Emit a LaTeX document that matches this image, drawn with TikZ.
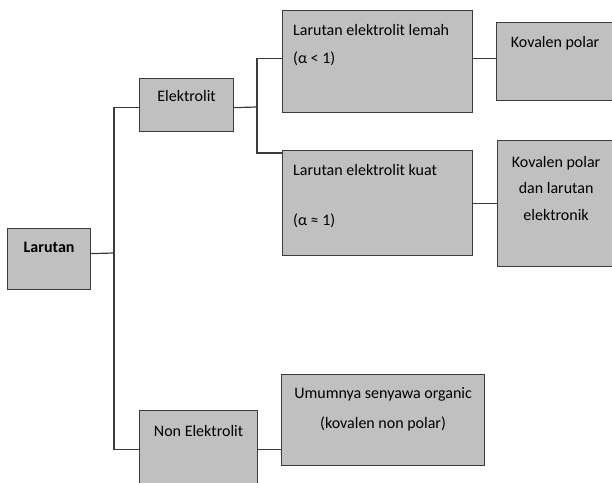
\documentclass[tikz,border=0pt]{standalone}
\usepackage{fontspec}
\setmainfont{Carlito}
\usepackage{tikz}
\definecolor{boxfill}{HTML}{C0C0C0}
\definecolor{boxline}{HTML}{3C3C3C}

\begin{document}
\begin{tikzpicture}[x=1pt,y=-1pt]
 \tikzset{gray box/.style={
 		draw=boxline, fill=boxfill,
 		line width=1.2pt,
 		rectangle,
 		inner sep=0pt,
 		anchor=north west
 	},
 	box text/.style={
 		inner sep=0pt,
 		font=\fontsize{16}{20}\selectfont
 	},
 	link/.style={draw=boxline, line width=1.2pt}
 }
 \clip (0,0) rectangle (612,482);
 % boxes
 \node[gray box, minimum width=83pt, minimum height=61pt] (lar) at (7,228) {};
 \node[gray box, minimum width=94pt, minimum height=53pt] (elek) at (139,78) {};
 \node[gray box, minimum width=118pt, minimum height=78pt] (non) at (139,410) {};
 \node[gray box, minimum width=190pt, minimum height=102pt] (lemah) at (282,10) {};
 \node[gray box, minimum width=190pt, minimum height=105pt] (kuat) at (282,150) {};
 \node[gray box, minimum width=203pt, minimum height=91pt] (umum) at (281,374) {};
 \node[gray box, minimum width=117pt, minimum height=78pt] (kov1) at (496,22) {};
 \node[gray box, minimum width=117pt, minimum height=126pt] (kov2) at (497,140) {};
 % texts (base = last line)
 \node[box text, anchor=base, font=\fontsize{16}{20}\selectfont\bfseries] (lar-t) at ([yshift=-24pt]lar.north) {Larutan};
 \node[box text, anchor=base] (elek-t) at ([yshift=-23pt]elek.north) {Elektrolit};
 \node[box text, anchor=base] (non-t) at ([yshift=-26pt]non.north) {Non Elektrolit};
 \node[box text, anchor=base west, align=left] (lemah-t) at ([xshift=11pt,yshift=-53pt]lemah.north west) {Larutan elektrolit lemah\\[8pt](α < 1)};
 \node[box text, anchor=base west, align=left] (kuat-t) at ([xshift=11pt,yshift=-75pt]kuat.north west) {Larutan elektrolit kuat\\[30pt](α ≈ 1)};
 \node[box text, anchor=base, align=center] (umum-t) at ([yshift=-54pt]umum.north) {Umumnya senyawa organic\\[10pt](kovalen non polar)};
 \node[box text, anchor=base] (kov1-t) at ([yshift=-25pt]kov1.north) {Kovalen polar};
 \node[box text, anchor=base, align=center] (kov2-t) at ([yshift=-80pt]kov2.north) {Kovalen polar\\[6.5pt]dan larutan\\[6.5pt]elektronik};
 % connectors
 \coordinate (split-a) at (114,253);
 \coordinate (split-b) at (257,107);
 \draw[link] ([yshift=5.5pt]lar.east) -- (split-a);
 \draw[link] ([yshift=-2.5pt]elek.west) -| (split-a) |- (non.west);
 \draw[link] ([yshift=-2.5pt]elek.east) -- (split-b);
 \draw[link] ([yshift=3pt]lemah.west) -| (split-b) |- ([yshift=-3pt]kuat.north west);
 \draw[link] ([yshift=3pt]lemah.east) -- ([yshift=3pt]lemah.east -| kov1.west);
 \draw[link] (kuat.east) -- (kuat.east -| kov2.west);
 \draw[link] (non.east) -- (non.east -| umum.west);
\end{tikzpicture}
\end{document}
